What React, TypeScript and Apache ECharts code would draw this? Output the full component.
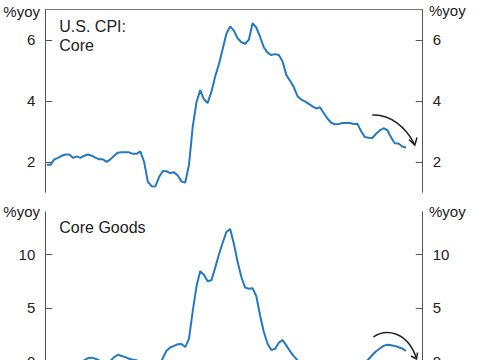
import React, { useEffect, useRef } from "react";
import * as echarts from "echarts";

// Monthly index (0 = first month shown)
const coreCpi = [
  1.9, 1.9, 2.08, 2.13, 2.2, 2.24, 2.24, 2.13, 2.18, 2.13, 2.2, 2.24,
  2.2, 2.14, 2.08, 2.08, 2.0, 2.08, 2.2, 2.3, 2.31, 2.31, 2.31, 2.26,
  2.26, 2.34, 2.0, 1.35, 1.2, 1.19, 1.5, 1.7, 1.69, 1.63, 1.66, 1.55,
  1.35, 1.32, 1.9, 3.15, 3.95, 4.35, 4.05, 3.93, 4.3, 4.8, 5.2, 5.7,
  6.2, 6.44, 6.3, 6.05, 5.92, 5.87, 6.0, 6.55, 6.4, 6.1, 5.75, 5.58,
  5.5, 5.53, 5.5, 5.3, 4.85, 4.66, 4.45, 4.15, 4.04, 3.98, 3.9, 3.82,
  3.75, 3.79, 3.6, 3.42, 3.28, 3.23, 3.24, 3.27, 3.27, 3.27, 3.24, 3.25,
  3.0, 2.81, 2.79, 2.78, 2.92, 3.03, 3.1, 3.04, 2.8, 2.61, 2.6, 2.5,
  2.47,
];

const coreGoods = [
  -0.7, -0.6, -0.5, -0.4, -0.3, -0.2, -0.3, -0.3, -0.2, -0.1, 0.1, 0.3,
  0.35, 0.25, 0.1, -0.1, -0.1, 0.05, 0.4, 0.62, 0.5, 0.4, 0.25, 0.15,
  0.1, -0.2, -0.7, -0.9, -1.0, -0.9, -0.4, 0.3, 1.0, 1.3, 1.45, 1.6,
  1.62, 1.34, 2.1, 4.7, 7.0, 8.45, 8.1, 7.5, 7.6, 8.75, 10.0, 11.1,
  12.1, 12.4, 11.0, 9.3, 7.9, 6.9, 6.8, 6.85, 6.1, 4.3, 2.75, 1.65,
  1.06, 1.17, 1.75, 2.0, 1.5, 0.95, 0.5, 0.1, -0.1, -0.1, -0.3, -0.2,
  -0.3, -0.4, -0.7, -1.1, -1.7, -1.9, -1.7, -1.8, -1.2, -1.0, -0.7, -0.5,
  -0.1, -0.1, 0.2, 0.6, 0.95, 1.2, 1.45, 1.55, 1.5, 1.45, 1.32, 1.2,
  0.98,
];

const topTicks = [2, 4, 6];
const bottomTicks = [0, 5, 10];
const unitLabel = "%yoy";
const topTitle = ["U.S. CPI:", "Core"];
const bottomTitle = "Core Goods";

const FONT = "'Liberation Sans', Arial, Helvetica, sans-serif";
const LINE = "#2479c1";
const AXIS = "#555";
const TEXT = "#222";

function yAxis(gridIndex: number, position: "left" | "right", min: number, max: number, ticks: number[]) {
  return {
    type: "value",
    gridIndex,
    position,
    min,
    max,
    axisLine: { show: true, onZero: false, lineStyle: { color: AXIS, width: 1 } },
    axisTick: { show: true, inside: true, length: 7, customValues: ticks, lineStyle: { color: AXIS } },
    axisLabel: { show: true, customValues: ticks, fontSize: 15, color: TEXT, fontFamily: FONT, margin: 10 },
    splitLine: { show: false },
  };
}

export default function App() {
  const ref = useRef<HTMLDivElement>(null);
  useEffect(() => {
    if (!ref.current) return;
    const chart = echarts.init(ref.current, undefined, { renderer: "svg" });
    const topData = coreCpi.map((v, i) => [i, v]);
    const botData = coreGoods.map((v, i) => [i, v]);
    const txt = (text: string, x: number, y: number, size: number, align: string) => ({
      type: "text",
      x,
      y,
      style: { text, fontSize: size, fontFamily: FONT, fill: TEXT, align, verticalAlign: "middle" },
    });
    chart.setOption({
      animation: false,
      grid: [
        { left: 45.3, top: 9.3, width: 377.4, height: 183, outerBoundsMode: "none", containLabel: false },
        { left: 45.3, top: 211.8, width: 377.4, height: 203, outerBoundsMode: "none", containLabel: false },
      ],
      xAxis: [
        {
          type: "value", gridIndex: 0, min: -0.4, max: 100.46, position: "top",
          axisLine: { show: true, onZero: false, lineStyle: { color: "#777", width: 1 } },
          axisTick: { show: false }, axisLabel: { show: false }, splitLine: { show: false },
        },
        {
          type: "value", gridIndex: 1, min: -0.4, max: 100.46,
          axisLine: { show: false, onZero: false }, axisTick: { show: false },
          axisLabel: { show: false }, splitLine: { show: false },
        },
      ],
      yAxis: [
        yAxis(0, "left", 1, 7, topTicks),
        yAxis(0, "right", 1, 7, topTicks),
        yAxis(1, "left", -5, 14, bottomTicks),
        yAxis(1, "right", -5, 14, bottomTicks),
      ],
      series: [
        {
          type: "line", xAxisIndex: 0, yAxisIndex: 0, data: topData, showSymbol: false,
          lineStyle: { color: LINE, width: 2 }, itemStyle: { color: LINE },
        },
        {
          type: "line", xAxisIndex: 1, yAxisIndex: 2, data: botData, showSymbol: false,
          lineStyle: { color: LINE, width: 2 }, itemStyle: { color: LINE },
        },
      ],
      graphic: [
        txt(unitLabel, 40, 11.5, 15, "right"),
        txt(unitLabel, 429, 10, 15, "left"),
        txt(unitLabel, 40, 211.2, 15, "right"),
        txt(unitLabel, 429, 211.2, 15, "left"),
        txt(topTitle[0], 59.3, 26.2, 16, "left"),
        txt(topTitle[1], 59.3, 45.2, 16, "left"),
        txt(bottomTitle, 59.3, 227.2, 16, "left"),
        {
          type: "bezierCurve",
          shape: { x1: 372.3, y1: 115, cpx1: 390, cpy1: 114, cpx2: 406, cpy2: 127, x2: 414.6, y2: 144.5 },
          style: { stroke: "#222", lineWidth: 1.5, fill: "none" },
        },
        {
          type: "polyline",
          shape: { points: [[409, 139.5], [414.8, 145], [417, 137.5]] },
          style: { stroke: "#222", lineWidth: 1.5, fill: "none" },
        },
        {
          type: "bezierCurve",
          shape: { x1: 373.3, y1: 337, cpx1: 385, cpy1: 329, cpx2: 407, cpy2: 330, x2: 416.5, y2: 358.5 },
          style: { stroke: "#222", lineWidth: 1.5, fill: "none" },
        },
        {
          type: "polyline",
          shape: { points: [[411, 356], [416.5, 359], [417.5, 352.5]] },
          style: { stroke: "#222", lineWidth: 1.5, fill: "none" },
        },
      ],
    });
    return () => chart.dispose();
  }, []);
  return (
    <div
      ref={ref}
      style={{ position: "fixed", left: 0, top: 0, width: 485, height: 360, background: "#fff" }}
    />
  );
}
